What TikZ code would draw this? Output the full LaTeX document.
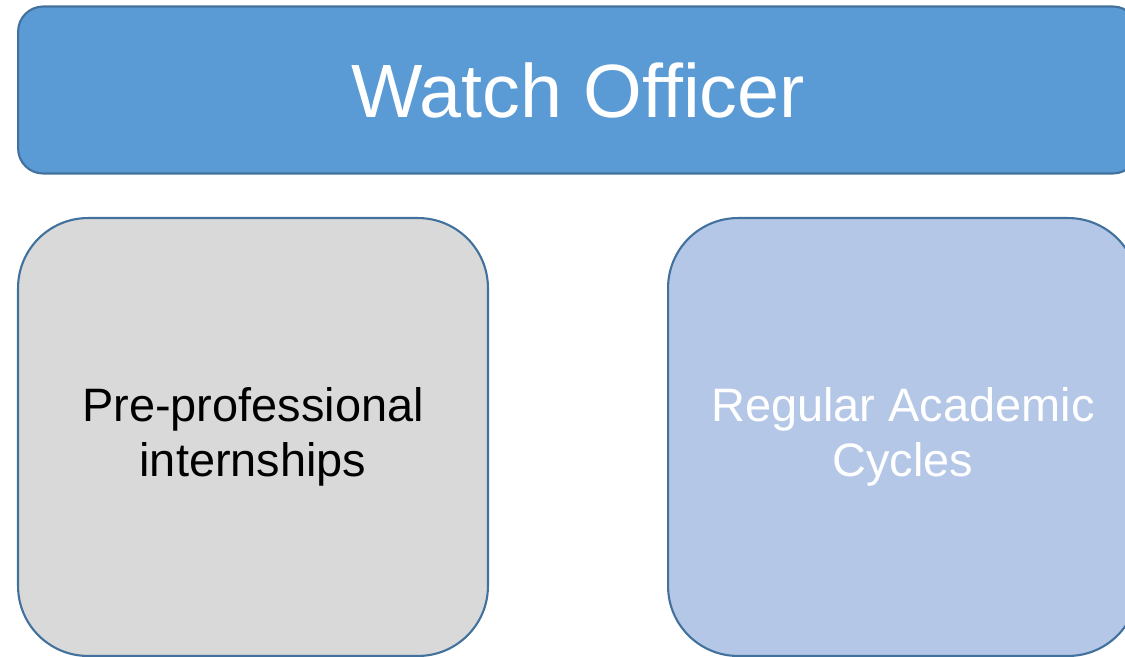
\documentclass[tikz,border=0pt]{standalone}
\usepackage{fontspec}
\setmainfont{Liberation Sans}
\definecolor{bannerblue}{HTML}{5B9BD5}
\definecolor{edgeblue}{HTML}{41719C}
\definecolor{lightgray}{HTML}{D9D9D9}
\definecolor{paleblue}{HTML}{B4C7E7}
\begin{document}
\begin{tikzpicture}[x=0.02cm, y=-0.02cm,
    box/.style={draw=edgeblue, line width=1.2pt, rounded corners=1.4cm,
                minimum width=9.4cm, minimum height=8.76cm, align=center,
                font=\fontsize{26.7}{31}\selectfont},
    banner/.style={draw=edgeblue, line width=1.2pt, fill=bannerblue, rounded corners=0.5cm,
                minimum width=22.4cm, minimum height=3.34cm, text=white,
                font=\fontsize{43}{50}\selectfont}]
        % Page frame
        \useasboundingbox (0,0) rectangle (1125,656);
        \clip (0,0) rectangle (1125,656);

        % Title banner
        \node[banner] (officer) at (578,90) {Watch Officer};

        % Two tracks below
        \node[box, fill=lightgray] (intern) at (253,437) {Pre-professional\\internships};
        \node[box, fill=paleblue, text=white] (cycles) at (903,437) {Regular Academic\\Cycles};
    \end{tikzpicture}
\end{document}
